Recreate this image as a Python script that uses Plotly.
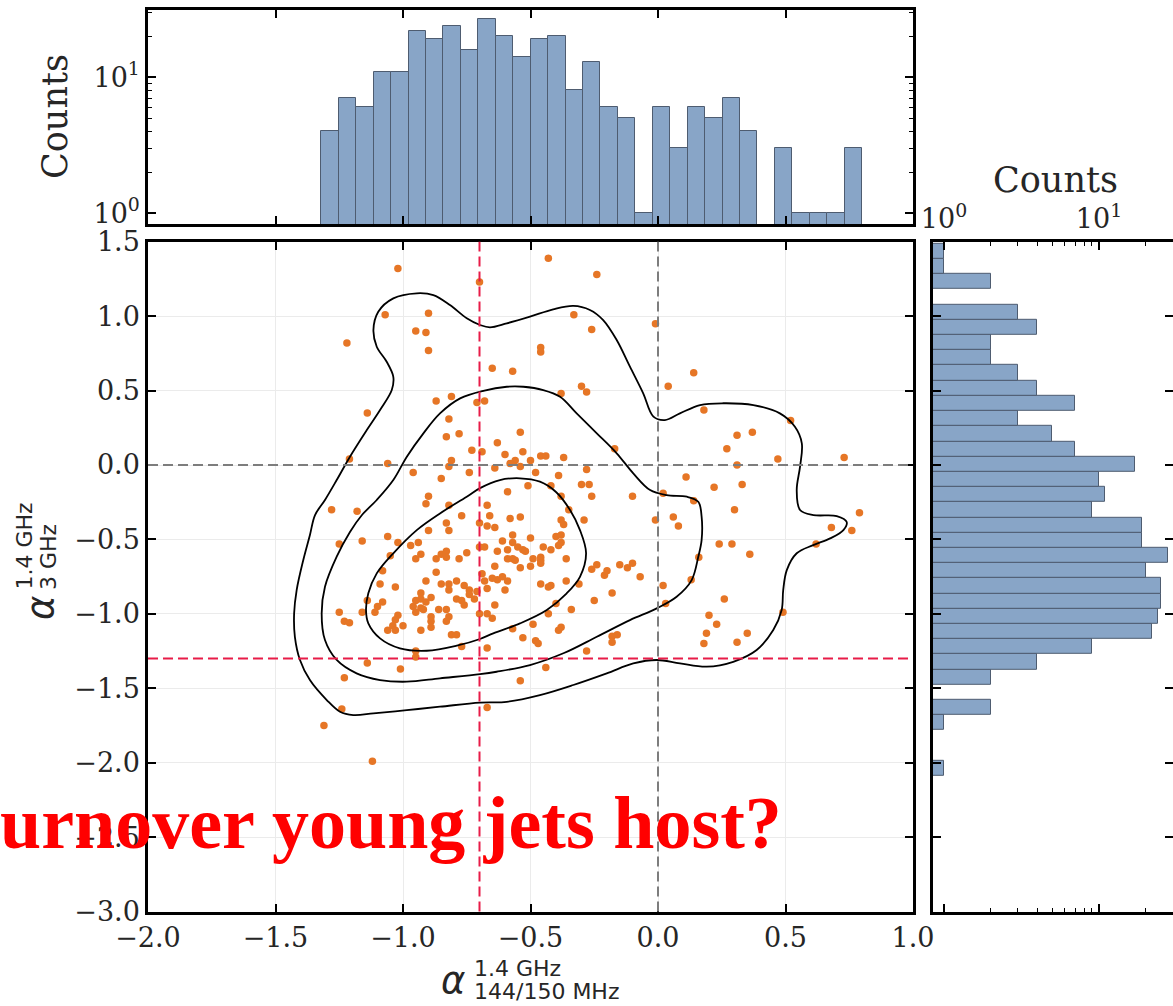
import plotly.graph_objects as go

W, H = 1173, 1006

# spectral indices of the sources: low-frequency index (x) and GHz index (y)
alpha_low = [
    -1.02, -0.70, -1.07, -0.90, -0.95, -0.91, -0.90, -1.22, -0.87, -0.81, -0.71, -1.14,
    -0.82, -0.83, -0.78, -0.73, -0.69, -1.21, -1.06, -0.81, -0.82, -0.96, -0.85, -0.74,
    -0.43, -0.24, -0.33, -0.26, -0.01, -0.46, -0.46, -0.65, -0.57, 0.14, 0.04, -0.30,
    -0.28, -0.38, -0.68, 0.18, 0.52, -0.54, -0.63, 0.31, 0.37, 0.27, -0.17, -0.60,
    -0.53, -0.56, -0.50, -0.46, -0.44, -0.37, -0.58, -0.54, -0.64, 0.47, 0.73, 0.31,
    -0.28, -0.48, -0.39, 0.11,
    -0.30, -0.27, -0.51, -0.42, -0.59, -0.26, -0.38, -0.67, -0.66, -0.58, -0.54, -0.35,
    -0.67, -0.64, -0.38, -0.37, -0.29, -0.57, -0.61, -0.57, -0.50, -0.40, -0.38, -0.38,
    -0.39, -0.63, -0.59, -0.55, -0.53, -0.52, -0.45, -0.42, -0.68, -0.59, -0.57, -0.56,
    -0.49, -0.46, -0.46, -0.36, -0.64, -0.54, -0.50, -0.46, -0.26, -0.69, -0.61, -0.63,
    -0.65, -0.59, -0.60, -0.46, -0.43, -0.42, -0.36, -0.31, -0.68, -0.67, -0.24,
    -0.10, 0.02, 0.14, 0.22, 0.33, 0.30, 0.79, 0.68, 0.76, 0.62, -0.01, 0.06,
    0.08, -0.21, -0.20, -0.15, -0.12, -0.10, -0.07, -0.18, -0.25, 0.02, 0.13, 0.16,
    0.03, 0.24, 0.29, 0.36, 0.26, 0.20, 0.23, 0.19, 0.18, 0.31, 0.35, 0.49,
    -0.64, -0.67, -0.65, -0.40, -0.43, -0.34, -0.57, -0.49, -0.38, -0.39, -0.53, -0.48,
    -0.47, -0.67, -0.18, -0.16, -0.18, -0.28, -0.44, -0.54, -0.67,
    -1.16, -1.06, -1.02, -0.97, -0.94, -0.93, -0.95, -0.90, -0.82, -0.87, -0.85, -0.83,
    -0.83, -0.78, -0.75, -1.08, -0.87, -0.91, -1.09, -1.03, -0.85, -0.82, -0.79, -0.82,
    -0.76, -0.74, -0.93, -0.93, -0.95, -0.91, -0.89, -0.96, -0.93, -0.92, -0.95, -0.79,
    -0.77, -0.76, -0.74, -0.72, -0.86, -0.83, -0.82, -0.83, -0.89, -0.89, -0.89, -1.14,
    -1.16, -1.08, -1.10, -1.11, -1.02, -1.03, -1.04, -1.06, -1.03, -1.00, -0.93, -0.81,
    -0.79, -0.77, -0.95, -0.71, -0.70, -1.05, -0.95,
    -0.90, -0.91, -0.82, -1.28, -1.18, -0.77, -0.83, -0.70, -1.25, -1.25, -1.23, -1.21,
    -1.14, -1.01, -1.23, -1.24, -1.31, -1.12, -0.70,
]
alpha_high = [
    1.32, 1.23, 1.01, 1.02, 0.90, 0.89, 0.77, 0.82, 0.43, 0.46, 0.42, 0.35,
    0.31, 0.19, 0.21, 0.10, 0.09, 0.04, 0.01, 0.03, -0.01, -0.05, -0.09, -0.05,
    1.39, 1.28, 1.01, 0.91, 0.95, 0.79, 0.76, 0.65, 0.63, 0.62, 0.53, 0.53,
    0.49, 0.48, 0.43, 0.37, 0.30, 0.22, 0.15, 0.20, 0.22, 0.11, 0.11, 0.07,
    0.09, 0.03, 0.03, 0.06, 0.06, 0.05, 0.01, -0.01, -0.02, 0.04, 0.05, 0.00,
    -0.03, -0.05, -0.07, -0.08,
    -0.13, -0.13, -0.14, -0.14, -0.18, -0.21, -0.21, -0.27, -0.34, -0.36, -0.35, -0.30,
    -0.41, -0.42, -0.37, -0.40, -0.37, -0.47, -0.51, -0.52, -0.49, -0.48, -0.47, -0.52,
    -0.54, -0.58, -0.57, -0.55, -0.57, -0.58, -0.55, -0.57, -0.55, -0.63, -0.63, -0.64,
    -0.63, -0.62, -0.64, -0.63, -0.68, -0.69, -0.68, -0.66, -0.70, -0.73, -0.75, -0.77,
    -0.76, -0.78, -0.84, -0.80, -0.82, -0.81, -0.78, -0.80, -0.78, -0.83, -0.67,
    -0.21, -0.19, -0.24, -0.15, -0.13, -0.30, -0.32, -0.42, -0.44, -0.53, -0.37, -0.35,
    -0.41, -0.74, -0.71, -0.67, -0.69, -0.66, -0.75, -0.86, -0.91, -0.81, -0.77, -0.62,
    -0.93, -0.53, -0.53, -0.60, -0.90, -1.01, -1.07, -1.13, -1.20, -1.19, -1.13, -0.99,
    -0.94, -1.00, -1.03, -0.93, -1.00, -0.97, -1.10, -1.07, -1.09, -1.11, -1.16, -1.18,
    -1.20, -1.23, -1.15, -1.14, -1.19, -1.25, -1.36, -1.45, -1.63,
    -0.51, -0.48, -0.52, -0.54, -0.52, -0.60, -0.63, -0.44, -0.44, -0.63, -0.60, -0.58,
    -0.62, -0.63, -0.59, -0.71, -0.72, -0.78, -0.80, -0.82, -0.80, -0.80, -0.78, -0.84,
    -0.81, -0.84, -0.86, -0.90, -0.91, -0.92, -0.89, -0.95, -0.96, -0.97, -0.99, -0.90,
    -0.91, -0.94, -0.87, -0.90, -0.97, -0.97, -1.02, -1.05, -1.02, -1.05, -1.09, -0.91,
    -0.99, -0.92, -0.95, -0.99, -1.01, -1.04, -1.08, -1.11, -1.11, -1.08, -1.11, -1.14,
    -1.14, -1.22, -1.25, -0.85, -1.00, -0.61, -1.29,
    -0.21, -0.26, -0.27, -0.30, -0.31, -0.34, -0.39, -0.39, -0.53, -0.99, -1.05, -1.06,
    -1.33, -1.37, -1.43, -1.64, -1.75, -1.99, -0.55,
]

# density contour levels (outer, middle, inner), as closed paths
outer_x = [-1.116, -1.097, -1.038, -0.946, -0.881, -0.816, -0.750, -0.698, -0.659, -0.593,
           -0.502, -0.411, -0.332, -0.267, -0.215, -0.162, -0.110, -0.058, -0.018, 0.027,
           0.086, 0.165, 0.256, 0.374, 0.478, 0.537, 0.564, 0.557, 0.544, 0.557,
           0.609, 0.701, 0.740, 0.727, 0.675, 0.609, 0.544, 0.505, 0.491, 0.485,
           0.452, 0.387, 0.295, 0.191, 0.086, -0.005, -0.097, -0.201, -0.332, -0.463,
           -0.593, -0.698, -0.855, -0.985, -1.116, -1.195, -1.247, -1.299, -1.365, -1.404,
           -1.424, -1.427, -1.417, -1.391, -1.365, -1.345, -1.306, -1.260, -1.208, -1.142,
           -1.090, -1.044, -1.038, -1.064, -1.103, -1.116]
outer_y = [0.907, 1.030, 1.120, 1.154, 1.142, 1.075, 0.986, 0.941, 0.925, 0.952,
           0.997, 1.046, 1.069, 1.042, 0.974, 0.840, 0.661, 0.482, 0.325, 0.302,
           0.347, 0.403, 0.415, 0.403, 0.347, 0.257, 0.146, -0.011, -0.168, -0.302,
           -0.336, -0.343, -0.383, -0.437, -0.493, -0.538, -0.593, -0.706, -0.840, -0.974,
           -1.109, -1.243, -1.322, -1.355, -1.333, -1.310, -1.333, -1.400, -1.478, -1.546,
           -1.591, -1.596, -1.624, -1.647, -1.669, -1.680, -1.658, -1.579, -1.445, -1.310,
           -1.154, -0.997, -0.840, -0.638, -0.470, -0.336, -0.235, -0.101, 0.056, 0.235,
           0.370, 0.504, 0.593, 0.694, 0.795, 0.907]
mid_x = [-1.038, -0.985, -0.920, -0.855, -0.776, -0.685, -0.593, -0.528, -0.450, -0.384,
         -0.319, -0.240, -0.162, -0.097, -0.031, 0.034, 0.113, 0.158, 0.171, 0.171,
         0.158, 0.132, 0.073, -0.005, -0.110, -0.240, -0.371, -0.502, -0.633, -0.698,
         -0.855, -0.985, -1.090, -1.182, -1.260, -1.306, -1.319, -1.306, -1.260, -1.208,
         -1.161, -1.103, -1.038]
mid_y = [-0.101, 0.056, 0.213, 0.347, 0.448, 0.499, 0.526, 0.526, 0.504, 0.459,
         0.347, 0.213, 0.079, -0.056, -0.168, -0.202, -0.213, -0.247, -0.347, -0.504,
         -0.616, -0.773, -0.885, -0.963, -1.042, -1.154, -1.265, -1.344, -1.389, -1.405,
         -1.433, -1.456, -1.445, -1.400, -1.310, -1.176, -0.997, -0.818, -0.616, -0.450,
         -0.336, -0.235, -0.101]
inner_x = [-0.698, -0.620, -0.541, -0.463, -0.400, -0.345, -0.306, -0.282, -0.306, -0.358,
           -0.436, -0.541, -0.646, -0.698, -0.789, -0.907, -1.012, -1.090, -1.136, -1.145,
           -1.136, -1.103, -1.038, -0.946, -0.855, -0.750, -0.698]
inner_y = [-0.155, -0.101, -0.089, -0.112, -0.181, -0.302, -0.437, -0.593, -0.751, -0.862,
           -0.974, -1.064, -1.131, -1.169, -1.214, -1.248, -1.232, -1.165, -1.064, -0.974,
           -0.862, -0.728, -0.593, -0.437, -0.325, -0.213, -0.155]

# histogram of the low-frequency index (log counts)
low_bin_start = -1.32
low_bin_width = 0.0684
low_counts = [4, 7, 6, 11, 11, 22, 19, 24, 16, 27, 20, 14, 19, 20, 8, 13,
              6, 5, 1, 6, 3, 6, 5, 7, 4, 0, 3, 1, 1, 1, 3]

# histogram of the GHz index, bins listed from the lowest upwards
high_bin_start = -2.089
high_bin_width = 0.1022
high_counts = [1, 0, 0, 1, 2, 0, 2, 4, 9, 22, 24, 25, 25, 20, 28, 19, 19, 9,
               11, 10, 17, 7, 5, 3, 7, 4, 3, 2, 2, 4, 3, 0, 2, 1, 1]

# selection cuts and reference lines
low_cut = -0.7
high_cut = -1.3
zero_line = 0.0

x_ticks = [-2.0, -1.5, -1.0, -0.5, 0.0, 0.5, 1.0]
y_ticks = [-3.0, -2.5, -2.0, -1.5, -1.0, -0.5, 0.0, 0.5, 1.0, 1.5]
log_ticks = [1, 10]
log_tick_text = ["10<sup>0</sup>", "10<sup>1</sup>"]
log_minor = [2, 3, 4, 5, 6, 7, 8, 9, 20, 30]


def px_x(p):
    return p / W


def px_y(p):
    return (H - p) / H


BAR_FILL = "rgb(136,165,199)"
BAR_EDGE = "rgb(78,92,112)"
DOT = "rgb(230,118,38)"
RED = "rgb(232,28,72)"
GREY = "rgb(125,125,125)"
SERIF = "DejaVu Serif"
TXT = "#262626"

fig = go.Figure()

fig.add_trace(go.Scatter(
    x=alpha_low, y=alpha_high, mode="markers",
    marker=dict(size=7.5, color=DOT, line=dict(width=0)),
    xaxis="x", yaxis="y", hoverinfo="skip", showlegend=False,
))

for cx, cy in [(outer_x, outer_y), (mid_x, mid_y), (inner_x, inner_y)]:
    fig.add_trace(go.Scatter(
        x=cx, y=cy, mode="lines",
        line=dict(color="black", width=1.8, shape="spline", smoothing=1.0),
        xaxis="x", yaxis="y", hoverinfo="skip", showlegend=False,
    ))

low_centers = [low_bin_start + (i + 0.5) * low_bin_width for i in range(len(low_counts))]
fig.add_trace(go.Bar(
    x=low_centers, y=[c if c > 0 else None for c in low_counts], width=low_bin_width,
    marker=dict(color=BAR_FILL, line=dict(color=BAR_EDGE, width=1)),
    xaxis="x2", yaxis="y2", hoverinfo="skip", showlegend=False,
))

high_centers = [high_bin_start + (i + 0.5) * high_bin_width for i in range(len(high_counts))]
fig.add_trace(go.Bar(
    y=high_centers, x=[c if c > 0 else None for c in high_counts], width=high_bin_width,
    orientation="h",
    marker=dict(color=BAR_FILL, line=dict(color=BAR_EDGE, width=1)),
    xaxis="x3", yaxis="y3", hoverinfo="skip", showlegend=False,
))

main_x = [px_x(148), px_x(913)]
main_y = [px_y(911.5), px_y(241.8)]
top_y = [px_y(224), px_y(10)]
right_x = [px_x(933), 1.0]

axis_common = dict(
    showline=True, linecolor="black", linewidth=2.5, mirror="allticks",
    ticks="inside", ticklen=8, tickwidth=1.5, tickcolor="black",
    zeroline=False, automargin=False,
    tickfont=dict(family=SERIF, size=27, color=TXT),
)

fig.update_layout(
    width=W, height=H, margin=dict(l=0, r=0, t=0, b=0, autoexpand=False),
    paper_bgcolor="white", plot_bgcolor="white",
    bargap=0, showlegend=False,
    xaxis=dict(domain=main_x, anchor="y", range=[-2, 1], tickvals=x_ticks,
               tickformat=".1f", showgrid=True, gridcolor="#ebebeb", gridwidth=1,
               **axis_common),
    yaxis=dict(domain=main_y, anchor="x", range=[-3, 1.5], tickvals=y_ticks,
               tickformat=".1f", showgrid=True, gridcolor="#ebebeb", gridwidth=1,
               **axis_common),
    xaxis2=dict(domain=main_x, anchor="y2", range=[-2, 1], tickvals=x_ticks,
                showticklabels=False, showgrid=False, **axis_common),
    yaxis2=dict(domain=top_y, anchor="x2", type="log", range=[-0.079, 1.495],
                tickvals=log_ticks, ticktext=log_tick_text, showgrid=False,
                minor=dict(ticks="inside", ticklen=4, tickwidth=1, tickcolor="black",
                           tickvals=log_minor, showgrid=False),
                **axis_common),
    xaxis3=dict(domain=right_x, anchor="y3", type="log", side="top",
                range=[-0.071, 1.477], tickvals=log_ticks, ticktext=log_tick_text,
                showgrid=False,
                minor=dict(ticks="inside", ticklen=4, tickwidth=1, tickcolor="black",
                           tickvals=log_minor, showgrid=False),
                **axis_common),
    yaxis3=dict(domain=main_y, anchor="x3", range=[-3, 1.5], tickvals=y_ticks,
                showticklabels=False, showgrid=False, **axis_common),
)

# reference lines in the scatter panel
dash = "10px,5px"
fig.add_shape(type="line", xref="x", yref="y domain", x0=zero_line, x1=zero_line, y0=0, y1=1,
              line=dict(color=GREY, width=2, dash=dash))
fig.add_shape(type="line", xref="x domain", yref="y", x0=0, x1=1, y0=zero_line, y1=zero_line,
              line=dict(color=GREY, width=2, dash=dash))
fig.add_shape(type="line", xref="x", yref="y domain", x0=low_cut, x1=low_cut, y0=0, y1=1,
              line=dict(color=RED, width=2, dash=dash))
fig.add_shape(type="line", xref="x domain", yref="y", x0=0, x1=1, y0=high_cut, y1=high_cut,
              line=dict(color=RED, width=2, dash=dash))

ann = []
# panel titles
ann.append(dict(text="Counts", x=px_x(55), y=px_y(117), textangle=-90,
                font=dict(family=SERIF, size=35, color=TXT)))
ann.append(dict(text="Counts", x=px_x(1055), y=px_y(180),
                font=dict(family=SERIF, size=35, color=TXT)))

# x label: alpha with stacked super/subscripts
ann.append(dict(text="α", x=px_x(453), y=px_y(1004), yanchor="bottom",
                font=dict(family="DejaVu Sans", size=37, color=TXT, style="italic")))
ann.append(dict(text="1.4 GHz", x=px_x(472), y=px_y(968), xanchor="left",
                font=dict(family="DejaVu Sans", size=22, color=TXT)))
ann.append(dict(text="144/150 MHz", x=px_x(472), y=px_y(991), xanchor="left",
                font=dict(family="DejaVu Sans", size=22, color=TXT)))

# y label (rotated)
ann.append(dict(text="α", x=px_x(40), y=px_y(608), textangle=-90,
                font=dict(family="DejaVu Sans", size=37, color=TXT, style="italic")))
ann.append(dict(text="1.4 GHz", x=px_x(24), y=px_y(592), yanchor="bottom", textangle=-90,
                font=dict(family="DejaVu Sans", size=22, color=TXT)))
ann.append(dict(text="3 GHz", x=px_x(48), y=px_y(592), yanchor="bottom", textangle=-90,
                font=dict(family="DejaVu Sans", size=22, color=TXT)))

# overlaid headline
ann.append(dict(text="<b>urnover young jets host?</b>", x=px_x(-2), y=px_y(823),
                xanchor="left", yanchor="middle",
                font=dict(family="Liberation Serif", size=74, color="rgb(255,0,0)")))

for a in ann:
    a.setdefault("xref", "paper")
    a.setdefault("yref", "paper")
    a.setdefault("xanchor", "center")
    a.setdefault("yanchor", "middle")
    a["showarrow"] = False
fig.update_layout(annotations=ann)

fig.write_html("out.html")
